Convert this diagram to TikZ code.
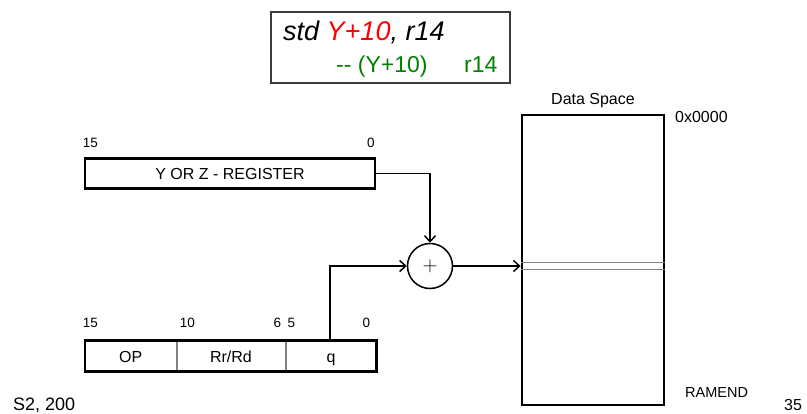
\documentclass[tikz,border=0pt]{standalone}
\usepackage{fontspec}
\setmainfont{Liberation Sans}
\usetikzlibrary{positioning, arrows.meta, calc}
\definecolor{ink}{RGB}{0,0,0}
\definecolor{hotred}{RGB}{255,0,0}
\definecolor{commgreen}{RGB}{0,128,0}
\definecolor{framegrey}{RGB}{60,60,60}
\definecolor{divgrey}{RGB}{130,130,130}
\newcommand{\fsz}[1]{\fontsize{#1}{#1}\selectfont}

\begin{document}
\begin{tikzpicture}[
  x=1pt, y=-1pt,
  font=\fsz{16},
  reg/.style={draw=ink, line width=2.8pt, minimum height=30pt, inner sep=0pt,
              text height=12.5pt, text depth=0pt},
  field/.style={draw=divgrey, line width=1pt, minimum height=30pt, inner sep=0pt,
                text height=12.5pt, text depth=0pt},
  bitnum/.style={font=\fsz{13.5}, inner sep=0pt, anchor=base},
  lbl/.style={inner sep=0pt, anchor=base west},
  wire/.style={draw=ink, line width=1.5pt},
  arr/.style={wire, -{Straight Barb[length=6pt, width=11pt]}}
]
\useasboundingbox (0,0) rectangle (807,414);

% instruction box
\node[draw=framegrey, line width=1.2pt, minimum width=239pt, minimum height=71pt,
      inner sep=0pt] (cmd) at (390.5,47.5) {};
\node[lbl, font=\fsz{27}\itshape] (cmdtxt) at (283,41)
  {std \textcolor{hotred}{Y+10}, r14};
\node[lbl, font=\fsz{23}, text=commgreen] (cmtA) at (336,73) {-{}- (Y+10)};
\node[lbl, font=\fsz{23}, text=commgreen] (cmtB) at (464,73) {r14};

% pointer register
\node[reg, minimum width=290pt] (yz) at (230,173.5) {Y OR Z - REGISTER};
\node[bitnum] (yzhi) at (90.5,148) {15};
\node[bitnum] (yzlo) at (371,148) {0};

% instruction word
\node[field, minimum width=90.5pt] (fop) at (130.75,356) {OP};
\node[field, minimum width=108pt, right=0pt of fop] (frd) {Rr/Rd};
\node[field, minimum width=90pt, right=0pt of frd] (fq) {q};
\draw[ink, line width=2.8pt] (fop.north west) rectangle (fq.south east);
\node[bitnum] (b15) at (90.5,328) {15};
\node[bitnum] (b10) at (187.5,328) {10};
\node[bitnum] (b6) at (277.5,328) {6};
\node[bitnum] (b5) at (291.5,328) {5};
\node[bitnum] (b0) at (366.5,328) {0};

% adder
\node[circle, wire, minimum size=45pt, inner sep=0pt] (add) at (430,266)
  {\fsz{22}$+$};

% data space
\node[reg, minimum width=142pt, minimum height=290pt] (ds) at (593,260) {};
\draw[divgrey, line width=0.9pt] (ds.west |- 0,262) -- (ds.east |- 0,262);
\draw[divgrey, line width=0.9pt] (ds.west |- 0,269) -- (ds.east |- 0,269);
\node[inner sep=0pt, anchor=base] (dstitle) at (593,105) {Data Space};
\node[lbl] (top) at (675,123) {0x0000};
\node[lbl, font=\fsz{14.5}] (bot) at (685,398) {RAMEND};

% footer
\node[lbl, font=\fsz{18}] (foot) at (13,410) {S2, 200};
\node[lbl, font=\fsz{16}] (page) at (784,411) {35};

% connections
\draw[arr] (yz.east) -| (add.north);
\coordinate (qtap) at (330,0);
\draw[arr] (qtap |- fq.north) -- (qtap |- add.west) -- (add.west);
\draw[arr] (add.east) -- (ds.west |- add.east);

\end{tikzpicture}
\end{document}
